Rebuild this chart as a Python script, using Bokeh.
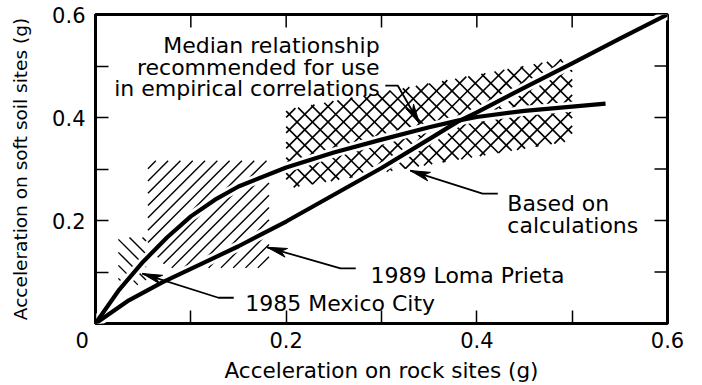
import math
from bokeh.plotting import figure
from bokeh.models import Range1d, FixedTicker
from bokeh.core.properties import value
from bokeh.embed import file_html
from bokeh.resources import INLINE

# ---- axis ticks ----
x_major_ticks = [0, 0.2, 0.4, 0.6]
y_major_ticks = [0.2, 0.4, 0.6]
minor_ticks = [0.1, 0.3, 0.5]

# ---- curves (rock-site acceleration vs soft-soil acceleration, g) ----
median_rock = [0, 0.025, 0.05, 0.075, 0.1, 0.125, 0.15, 0.2, 0.25, 0.3, 0.35, 0.38, 0.4, 0.45, 0.5, 0.535]
median_soil = [0, 0.066, 0.12, 0.167, 0.208, 0.24, 0.266, 0.303, 0.332, 0.357, 0.381, 0.394, 0.401, 0.413, 0.421, 0.427]

calc_rock = [0, 0.035, 0.07, 0.1, 0.15, 0.2, 0.25, 0.3, 0.35, 0.38, 0.4, 0.45, 0.5, 0.55, 0.6]
calc_soil = [0, 0.045, 0.08, 0.106, 0.15, 0.198, 0.25, 0.302, 0.358, 0.392, 0.41, 0.458, 0.505, 0.553, 0.6]

# ---- observed / computed ranges ----
mexico_rock = [0.024, 0.053, 0.053, 0.024]
mexico_soil = [0.075, 0.075, 0.167, 0.167]

loma_rock = [0.055, 0.182, 0.182, 0.075, 0.055]
loma_soil = [0.316, 0.316, 0.108, 0.108, 0.15]

band_rock = [0.2, 0.5, 0.5, 0.2]
band_soil = [0.262, 0.355, 0.517, 0.415]

# ---- annotation texts and leader paths (text end -> bend -> arrow tip) ----
median_lines = ["Median relationship", "recommended for use", "in empirical correlations"]
median_text_x = [0.298, 0.298, 0.298]
median_text_y = [0.540, 0.497, 0.456]
median_leader = ([0.304, 0.317, 0.340], [0.462, 0.462, 0.388])

calc_lines = ["Based on", "calculations"]
calc_text_x = [0.432, 0.432]
calc_text_y = [0.233, 0.190]
calc_leader = ([0.422, 0.406, 0.330], [0.252, 0.252, 0.297])

loma_text = "1989 Loma Prieta"
loma_text_xy = (0.2885, 0.093)
loma_leader = ([0.273, 0.257, 0.180], [0.107, 0.107, 0.148])

mexico_text = "1985 Mexico City"
mexico_text_xy = (0.157, 0.039)
mexico_leader = ([0.145, 0.129, 0.049], [0.050, 0.050, 0.097])

FONT = "DejaVu Sans"
FRAME_W, FRAME_H = 572, 309
X_MAX, Y_MAX = 0.6, 0.6
SX, SY = FRAME_W / X_MAX, FRAME_H / Y_MAX  # pixels per g
TICK_LEN = 13
NBSP = "\u00a0"

p = figure(width=702, height=385, output_backend="svg", toolbar_location=None,
           x_range=Range1d(0, X_MAX), y_range=Range1d(0, Y_MAX),
           min_border_left=95, min_border_right=35, min_border_top=14, min_border_bottom=62)
p.background_fill_color = "white"
p.border_fill_color = "white"
p.outline_line_color = "black"
p.outline_line_width = 3
p.xgrid.visible = False
p.ygrid.visible = False

p.xaxis[0].ticker = FixedTicker(ticks=x_major_ticks, minor_ticks=minor_ticks)
p.yaxis[0].ticker = FixedTicker(ticks=y_major_ticks, minor_ticks=minor_ticks)
for ax in (p.xaxis[0], p.yaxis[0]):
    ax.axis_line_color = None
    ax.major_tick_in = TICK_LEN
    ax.major_tick_out = 0
    ax.minor_tick_in = TICK_LEN
    ax.minor_tick_out = 0
    ax.major_tick_line_width = 1.5
    ax.minor_tick_line_width = 1.5
    ax.major_tick_line_color = "black"
    ax.minor_tick_line_color = "black"
    ax.major_label_text_font = FONT
    ax.major_label_text_font_size = "21px"
    ax.major_label_text_color = "black"
    ax.major_label_standoff = 10
    ax.axis_label_text_font = FONT
    ax.axis_label_text_font_style = "normal"
    ax.axis_label_text_color = "black"

# the origin label is set off to the left of the corner
p.xaxis[0].major_label_overrides = {0: "0" + NBSP * 4}
p.xaxis[0].major_label_standoff = 5
p.xaxis[0].axis_label = "Acceleration on rock sites (g)"
p.xaxis[0].axis_label_text_font_size = "21.5px"
p.xaxis[0].axis_label_standoff = 2

p.yaxis[0].axis_label = "Acceleration on soft soil sites (g)"
p.yaxis[0].axis_label_text_font_size = "18.5px"
p.yaxis[0].axis_label_standoff = 18

# inward ticks along the top and right edges of the frame
all_ticks = sorted(y_major_ticks + minor_ticks)
top_ticks = [t for t in all_ticks if t < X_MAX]
p.segment(x0=top_ticks, y0=[Y_MAX] * len(top_ticks), x1=top_ticks,
          y1=[Y_MAX - TICK_LEN / SY] * len(top_ticks), line_color="black", line_width=1.5)
right_ticks = [t for t in all_ticks if t < Y_MAX]
p.segment(x0=[X_MAX] * len(right_ticks), y0=right_ticks, x1=[X_MAX - TICK_LEN / SX] * len(right_ticks),
          y1=right_ticks, line_color="black", line_width=1.5)


def hatch_lines(poly_x, poly_y, direction, spacing, phase=0.0):
    """45-degree hatch strokes clipped to a convex polygon (spacing in screen px)."""
    X = [x * SX for x in poly_x]
    Y = [y * SY for y in poly_y]
    n = len(X)
    cs = [Y[i] - direction * X[i] for i in range(n)]
    xs_out, ys_out = [], []
    k = math.ceil((min(cs) - phase) / spacing)
    while phase + k * spacing <= max(cs):
        c = phase + k * spacing
        pts = []
        for i in range(n):
            x0, y0, x1, y1 = X[i], Y[i], X[(i + 1) % n], Y[(i + 1) % n]
            f0 = y0 - direction * x0 - c
            f1 = y1 - direction * x1 - c
            if f0 == f1:
                continue
            if (f0 <= 0 <= f1) or (f1 <= 0 <= f0):
                t = f0 / (f0 - f1)
                pts.append((x0 + t * (x1 - x0), y0 + t * (y1 - y0)))
        if len(pts) >= 2:
            pts.sort()
            (ax, ay), (bx, by) = pts[0], pts[-1]
            if abs(bx - ax) > 0.5:
                xs_out.append([ax / SX, bx / SX])
                ys_out.append([ay / SY, by / SY])
        k += 1
    return xs_out, ys_out


# hatched ranges
for d in (1, -1):
    hx, hy = hatch_lines(band_rock, band_soil, d, 15.5)
    p.multi_line(hx, hy, line_color="black", line_width=1.6)
hx, hy = hatch_lines(loma_rock, loma_soil, 1, 12.3, phase=4)
p.multi_line(hx, hy, line_color="black", line_width=1.4)
hx, hy = hatch_lines(mexico_rock, mexico_soil, -1, 13, phase=3)
p.multi_line(hx, hy, line_color="black", line_width=1.4)

# curves, with a thin white margin that breaks the hatching around them
for xs, ys in ((calc_rock, calc_soil), (median_rock, median_soil)):
    p.line(xs, ys, line_color="white", line_width=10, line_join="round", line_cap="butt")
p.line(calc_rock, calc_soil, line_color="black", line_width=4.2, line_join="round")
p.line(median_rock, median_soil, line_color="black", line_width=4.2, line_join="round")


def arrow_head(xs, ys, length=20, width=9):
    """Narrow filled head at the last point of a leader path."""
    tx, ty = xs[-1], ys[-1]
    dx = (tx - xs[-2]) * SX
    dy = (ty - ys[-2]) * SY
    n = math.hypot(dx, dy)
    ux, uy = dx / n, dy / n
    nx, ny = -uy, ux
    pts = [(0, 0),
           (-length * ux + width / 2 * nx, -length * uy + width / 2 * ny),
           (-0.72 * length * ux, -0.72 * length * uy),
           (-length * ux - width / 2 * nx, -length * uy - width / 2 * ny)]
    return [tx + a / SX for a, b in pts], [ty + b / SY for a, b in pts]


for lx, ly in (median_leader, calc_leader, loma_leader, mexico_leader):
    p.line(lx, ly, line_color="black", line_width=1.8)
    hx, hy = arrow_head(lx, ly)
    p.patch(hx, hy, fill_color="black", line_color="black", line_width=1)

# annotation texts
txt = dict(text_font=value(FONT), text_font_size=value("22px"), text_color="black",
           text_baseline="alphabetic")
p.text(median_text_x, median_text_y, text=median_lines, text_align="right", **txt)
p.text(calc_text_x, calc_text_y, text=calc_lines, text_align="left", **txt)
p.text([loma_text_xy[0]], [loma_text_xy[1]], text=[loma_text], text_align="left", **txt)
p.text([mexico_text_xy[0]], [mexico_text_xy[1]], text=[mexico_text], text_align="left", **txt)

open("out.html", "w").write(file_html(p, INLINE))
